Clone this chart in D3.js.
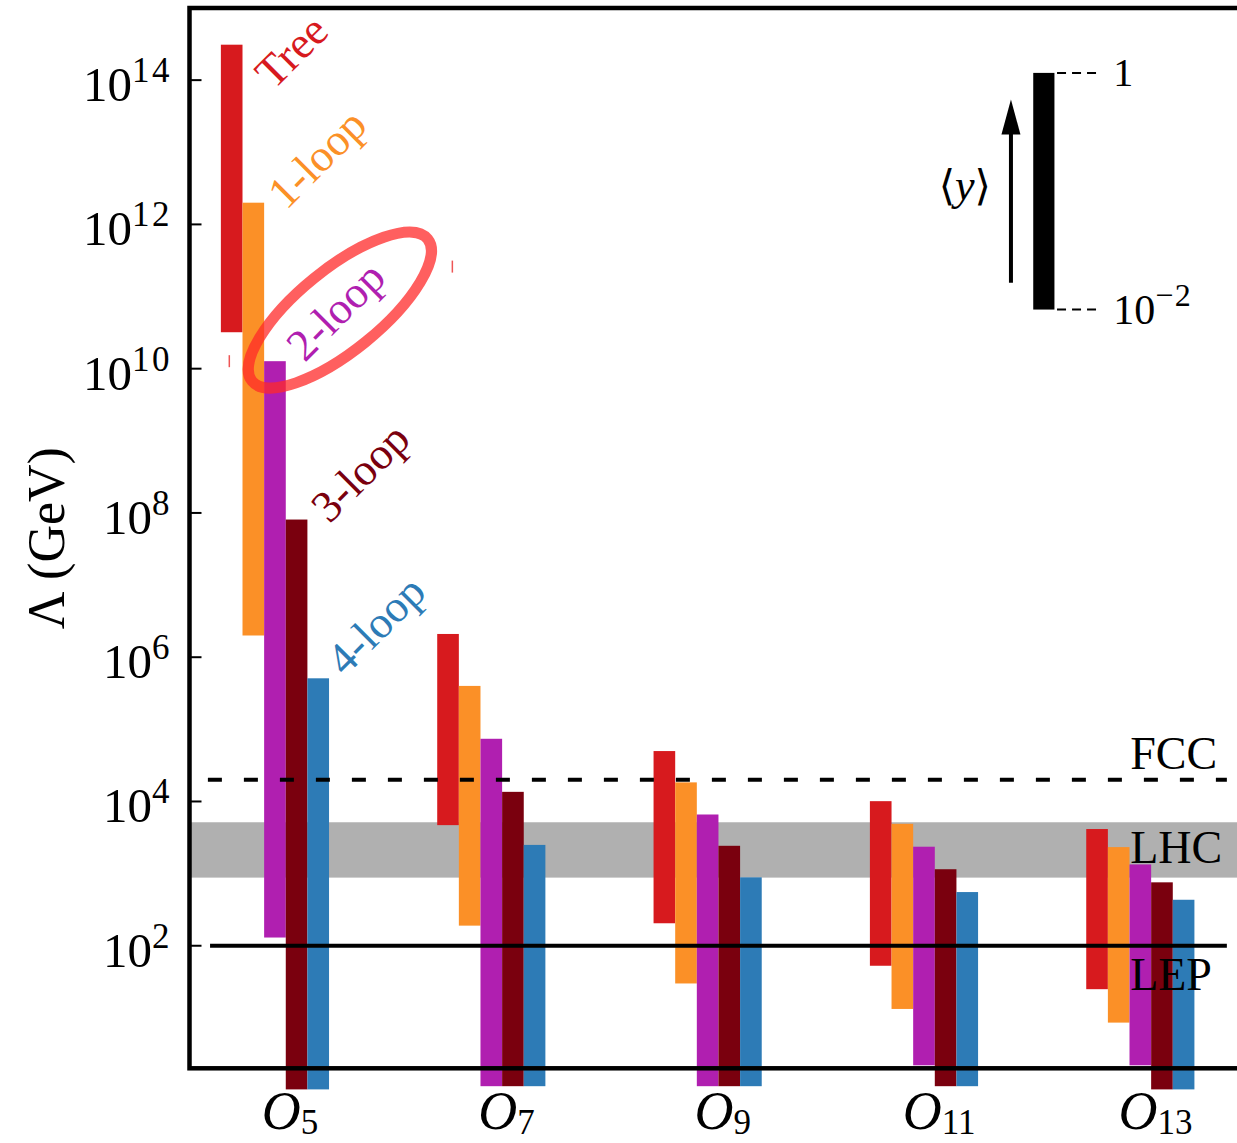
<!DOCTYPE html>
<html>
<head>
<meta charset="utf-8">
<script src="https://cdn.jsdelivr.net/npm/d3@7"></script>
<style>
  html, body { margin: 0; padding: 0; background: #fff; }
  svg { display: block; }
  text { font-family: "Liberation Serif", "DejaVu Serif", serif; }
</style>
</head>
<body>
<svg id="chart" width="1237" height="1143"></svg>
<script>
// Operators (subscript of O) and loop orders
const operators = ["5", "7", "9", "11", "13"];
const loopOrders = ["Tree", "1-loop", "2-loop", "3-loop", "4-loop"];

// Lambda ranges [low, high] in GeV for each operator, one array per loop order
const treeRange  = [[3.2e10, 3.1e14], [4.7e3, 2.1e6], [205, 5.0e4], [52.8, 1.01e4], [25, 4.15e3]];
const loop1Range = [[2.0e6, 2.0e12], [190, 4.0e5], [30, 1.84e4], [13.3, 4.9e3], [8.6, 2.33e3]];
const loop2Range = [[130, 1.27e10], [1.13, 7.4e4], [1.13, 6.6e3], [2.2, 2.36e3], [2.2, 1.34e3]];
const loop3Range = [[1.02, 8.1e7], [1.13, 1.36e4], [1.13, 2.43e3], [1.13, 1.15e3], [1.02, 757]];
const loop4Range = [[1.02, 5.1e5], [1.13, 2.5e3], [1.13, 888], [1.13, 555], [1.02, 434]];
const ranges = [treeRange, loop1Range, loop2Range, loop3Range, loop4Range];

const loopColors = ["#d71a1e", "#fb9027", "#b01fb0", "#7a000e", "#2d7bb6"];

// Collider reach
const fccScale = 2.0e4;
const lhcBand = [880, 5.15e3];
const lepScale = 100;

// Y-axis tick exponents
const tickExponents = [2, 4, 6, 8, 10, 12, 14];

// Coupling key: <y> from 10^-2 up to 1
const keyLabels = ["1", "10", "\u22122"];

const svg = d3.select("#chart");
const frame = { left: 189.5, right: 1248.5, top: 8, bottom: 1068.3 };

const x = d3.scaleLinear().domain([-0.395, 4.5]).range([frame.left, frame.right]);
const y = d3.scaleLog().domain([2, 1e15]).range([frame.bottom, frame.top]);
const barW = x(0.1) - x(0);

// LHC band (behind bars)
svg.append("rect")
  .attr("x", frame.left).attr("width", frame.right - frame.left)
  .attr("y", y(lhcBand[1])).attr("height", y(lhcBand[0]) - y(lhcBand[1]))
  .attr("fill", "#b0b0b0");

// Floating bars: operator group i, loop order j
const bars = [];
ranges.forEach((arr, j) => arr.forEach((r, i) => bars.push({ i, j, lo: r[0], hi: r[1] })));
svg.append("g").selectAll("rect").data(bars).join("rect")
  .attr("x", d => x(d.i - 0.25 + 0.1 * d.j))
  .attr("width", barW)
  .attr("y", d => y(d.hi))
  .attr("height", d => y(d.lo) - y(d.hi))
  .attr("fill", d => loopColors[d.j]);

// FCC (dashed) and LEP (solid) lines
svg.append("line")
  .attr("x1", x(-0.31)).attr("x2", x(4.4))
  .attr("y1", y(fccScale)).attr("y2", y(fccScale))
  .attr("stroke", "#000").attr("stroke-width", 4).attr("stroke-dasharray", "14,22");
svg.append("line")
  .attr("x1", x(-0.3)).attr("x2", x(4.4))
  .attr("y1", y(lepScale)).attr("y2", y(lepScale))
  .attr("stroke", "#000").attr("stroke-width", 4);

// Collider labels
const colliderText = [["FCC", fccScale, -11], ["LHC", lhcBand[0], -15], ["LEP", lepScale, 44]];
svg.append("g").selectAll("text").data(colliderText).join("text")
  .attr("x", x(3.953)).attr("y", d => y(d[1]) + d[2])
  .attr("font-size", 46).attr("fill", "#000")
  .text(d => d[0]);

// Axes frame
svg.append("rect")
  .attr("x", frame.left).attr("y", frame.top)
  .attr("width", frame.right - frame.left).attr("height", frame.bottom - frame.top)
  .attr("fill", "none").attr("stroke", "#000").attr("stroke-width", 4.5);

// Y ticks (inward) and labels 10^n
const yTicks = svg.append("g");
tickExponents.forEach(e => {
  const yy = y(Math.pow(10, e));
  yTicks.append("line")
    .attr("x1", frame.left).attr("x2", frame.left + 12)
    .attr("y1", yy).attr("y2", yy)
    .attr("stroke", "#000").attr("stroke-width", 2);
  const t = yTicks.append("text")
    .attr("x", 172).attr("y", yy + 21)
    .attr("text-anchor", "end").attr("font-size", 49);
  t.append("tspan").text("10");
  t.append("tspan").attr("dy", -19).attr("font-size", 35).attr("letter-spacing", 2.5).text(String(e));
});

// Y axis title
svg.append("text")
  .attr("transform", `translate(64, ${(frame.top + frame.bottom) / 2}) rotate(-90)`)
  .attr("text-anchor", "middle").attr("font-size", 52)
  .text("\u039B (GeV)");

// X tick labels O_n
const xl = svg.append("g");
operators.forEach((op, i) => {
  const t = xl.append("text")
    .attr("x", x(i + 0.07)).attr("y", 1129)
    .attr("text-anchor", "middle").attr("font-size", 54);
  t.append("tspan").attr("font-style", "italic").text("O");
  t.append("tspan").attr("dy", 5).attr("font-size", 35).text(op);
});

// Rotated loop-order labels beside the O5 bars
const labelOffset = [[31, 46], [22, 8], [19, 2], [22, 5], [16, -1]];
loopOrders.forEach((name, j) => {
  const d = ranges[j][0];
  const px = x(-0.25 + 0.1 * (j + 1)) + labelOffset[j][0];
  const py = y(d[1]) + labelOffset[j][1];
  svg.append("text")
    .attr("transform", `translate(${px},${py}) rotate(-45)`)
    .attr("font-size", 45).attr("fill", loopColors[j])
    .text(name);
});

// Highlight ring around the 2-loop label
const ringCenter = [0.30, 6.5e10];
svg.append("ellipse")
  .attr("transform", `translate(${x(ringCenter[0])},${y(ringCenter[1])}) rotate(-39)`)
  .attr("rx", 113).attr("ry", 41)
  .attr("fill", "none").attr("stroke", "#ff2a2a").attr("stroke-opacity", 0.75)
  .attr("stroke-width", 11);
// small stray pen marks of the ring
[[-0.211, 1.27e10], [0.82, 2.6e11]].forEach(p => {
  svg.append("line")
    .attr("x1", x(p[0])).attr("x2", x(p[0]))
    .attr("y1", y(p[1]) - 6).attr("y2", y(p[1]) + 6)
    .attr("stroke", "#ee5555").attr("stroke-width", 1.5);
});

// Coupling key: black bar spanning <y> = 1e-2 .. 1
const keyX = 3.555;
const keySpan = [6.6e10, 1.26e14];
const key = svg.append("g");
key.append("rect")
  .attr("x", x(keyX - 0.05)).attr("width", barW * 0.98)
  .attr("y", y(keySpan[1])).attr("height", y(keySpan[0]) - y(keySpan[1]))
  .attr("fill", "#000");
keySpan.forEach(v => {
  key.append("line")
    .attr("x1", x(keyX + 0.06)).attr("x2", x(keyX + 0.265))
    .attr("y1", y(v)).attr("y2", y(v))
    .attr("stroke", "#000").attr("stroke-width", 2).attr("stroke-dasharray", "9,6");
});
key.append("text")
  .attr("x", x(keyX + 0.32)).attr("y", y(keySpan[1]) + 13)
  .attr("font-size", 40).text(keyLabels[0]);
const kt = key.append("text")
  .attr("x", x(keyX + 0.32)).attr("y", y(keySpan[0]) + 14)
  .attr("font-size", 42);
kt.append("tspan").text(keyLabels[1]);
kt.append("tspan").attr("dy", -18).attr("font-size", 32).attr("letter-spacing", 1.5).text(keyLabels[2]);

// Arrow pointing towards larger <y>
const arrowX = x(keyX - 0.153);
const arrowFrom = y(1.55e11), arrowTip = y(5.4e13);
key.append("line")
  .attr("x1", arrowX).attr("x2", arrowX)
  .attr("y1", arrowFrom).attr("y2", arrowTip + 30)
  .attr("stroke", "#000").attr("stroke-width", 4);
key.append("path")
  .attr("d", `M${arrowX},${arrowTip} L${arrowX - 9.5},${arrowTip + 35} L${arrowX + 9.5},${arrowTip + 35} Z`)
  .attr("fill", "#000");
const ky = key.append("text")
  .attr("x", arrowX - 20).attr("y", (arrowFrom + arrowTip) / 2 + 9)
  .attr("text-anchor", "end").attr("font-size", 44);
ky.append("tspan").attr("font-family", "DejaVu Serif").attr("font-size", 42).text("\u27E8");
ky.append("tspan").attr("font-style", "italic").text("y");
ky.append("tspan").attr("font-family", "DejaVu Serif").attr("font-size", 42).text("\u27E9");
</script>
</body>
</html>
